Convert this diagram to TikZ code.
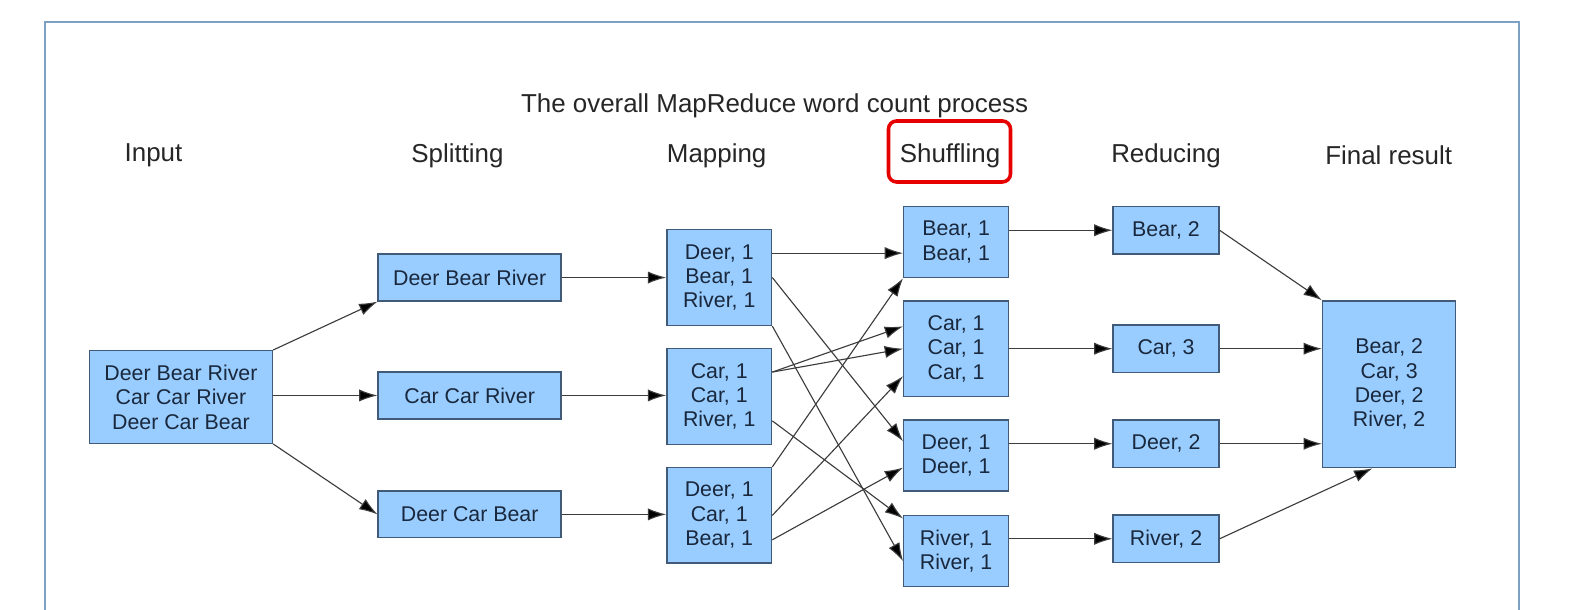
\documentclass[tikz,border=0pt]{standalone}
\usepackage{fontspec}
\setmainfont{Liberation Sans}
\usetikzlibrary{arrows.meta}
\definecolor{boxfill}{RGB}{153,204,255}
\definecolor{boxline}{RGB}{65,90,120}
\definecolor{boxtext}{RGB}{25,40,60}
\definecolor{frameblue}{RGB}{125,160,195}
\definecolor{arrowgray}{RGB}{60,60,60}
\definecolor{hlred}{RGB}{230,0,0}
\tikzset{
  box/.style={draw=boxline, fill=boxfill, line width=1.4pt, inner sep=0pt,
    align=center, text=boxtext, font=\fontsize{21}{24}\selectfont},
  header/.style={text=black!85, font=\fontsize{25.5}{28}\selectfont, inner sep=0pt},
  conn/.style={draw=arrowgray, line width=1.1pt, -{Latex[length=18pt,width=12pt,fill=black]}}
}
\begin{document}
\begin{tikzpicture}[x=1pt,y=-1pt]
\useasboundingbox (0,0) rectangle (1568,600);
\fill[white] (0,0) rectangle (1568,600);
\draw[frameblue, line width=2pt] (44,640) -- (44,22) -- (1494,22) -- (1494,640);

\node[header] (title) at (762,104) {The overall MapReduce word count process};
\node[header] (hin) at (151,153) {Input};
\node[header] (hsp) at (450,153) {Splitting};
\node[header] (hmap) at (705,153) {Mapping};
\node[draw=hlred, line width=3.5pt, rounded corners=8pt, minimum width=120pt, minimum height=60pt, inner sep=0pt] (hlbox) at (934,149) {};
\node[header] (hshuf) at (934.5,153) {Shuffling};
\node[header] (hred) at (1147,153) {Reducing};
\node[header] (hfin) at (1366,153) {Final result};

% Input
\node[box, minimum width=180pt, minimum height=91pt] (in) at (178,390.5) {Deer Bear River\\Car Car River\\Deer Car Bear};
% Splitting
\node[box, minimum width=180pt, minimum height=46pt] (s1) at (462,273) {Deer Bear River};
\node[box, minimum width=180pt, minimum height=46pt] (s2) at (462,389) {Car Car River};
\node[box, minimum width=180pt, minimum height=46pt] (s3) at (462,506) {Deer Car Bear};
% Mapping
\node[box, minimum width=103pt, minimum height=94pt] (m1) at (707.5,273) {Deer, 1\\Bear, 1\\River, 1};
\node[box, minimum width=103pt, minimum height=94pt] (m2) at (707.5,390) {Car, 1\\Car, 1\\River, 1};
\node[box, minimum width=103pt, minimum height=94pt] (m3) at (707.5,507) {Deer, 1\\Car, 1\\Bear, 1};
% Shuffling
\node[box, minimum width=103pt, minimum height=70pt] (sh1) at (940.5,238) {Bear, 1\\Bear, 1};
\node[box, minimum width=103pt, minimum height=94pt] (sh2) at (940.5,343) {Car, 1\\Car, 1\\Car, 1};
\node[box, minimum width=103pt, minimum height=70pt] (sh3) at (940.5,448) {Deer, 1\\Deer, 1};
\node[box, minimum width=103pt, minimum height=70pt] (sh4) at (940.5,542) {River, 1\\River, 1};
% Reducing
\node[box, minimum width=104pt, minimum height=47pt] (r1) at (1147,226.5) {Bear, 2};
\node[box, minimum width=104pt, minimum height=47pt] (r2) at (1147,343) {Car, 3};
\node[box, minimum width=104pt, minimum height=47pt] (r3) at (1147,436.5) {Deer, 2};
\node[box, minimum width=104pt, minimum height=47pt] (r4) at (1147,530) {River, 2};
% Final
\node[box, minimum width=131pt, minimum height=164pt] (fin) at (1366.5,378) {Bear, 2\\Car, 3\\Deer, 2\\River, 2};

% Input -> Splitting
\draw[conn] (in.north east) -- (s1.south west);
\draw[conn] (in.east |- s2.west) -- (s2.west);
\draw[conn] (in.south east) -- (s3.west);
% Splitting -> Mapping
\draw[conn] (s1.east) -- (m1.west |- s1.east);
\draw[conn] (s2.east) -- (m2.west |- s2.east);
\draw[conn] (s3.east) -- (m3.west |- s3.east);
% Mapping -> Shuffling
\draw[conn] ([yshift=24pt]m1.east) -- ([yshift=-11pt]sh1.west);
\draw[conn] (m1.east) -- ([yshift=14pt]sh3.west);
\draw[conn] (m1.south east) -- ([yshift=-10pt]sh4.west);
\draw[conn] ([yshift=24pt]m2.east) -- ([yshift=22pt]sh2.west);
\draw[conn] ([yshift=24pt]m2.east) -- (sh2.west);
\draw[conn] ([yshift=-24pt]m2.east) -- ([yshift=32pt]sh4.west);
\draw[conn] (m3.north east) -- (sh1.south west);
\draw[conn] (m3.east) -- ([yshift=-27pt]sh2.west);
\draw[conn] ([yshift=-24pt]m3.east) -- ([yshift=-12pt]sh3.west);
% Shuffling -> Reducing
\draw[conn] (sh1.east |- r1.west) -- (r1.west);
\draw[conn] (sh2.east) -- (r2.west);
\draw[conn] (sh3.east |- r3.west) -- (r3.west);
\draw[conn] (sh4.east |- r4.west) -- (r4.west);
% Reducing -> Final
\draw[conn] (r1.east) -- (fin.north west);
\draw[conn] (r2.east) -- ([yshift=35pt]fin.west);
\draw[conn] (r3.east) -- ([yshift=-58.5pt]fin.west);
\draw[conn] (r4.east) -- ([xshift=-16.5pt]fin.south);
\end{tikzpicture}
\end{document}
